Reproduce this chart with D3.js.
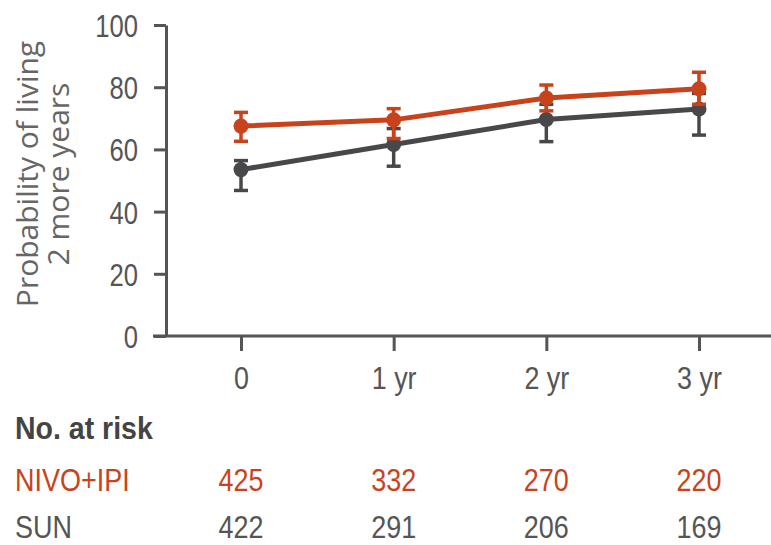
<!DOCTYPE html>
<html>
<head>
<meta charset="utf-8">
<script src="https://cdn.jsdelivr.net/npm/d3@7"></script>
<style>
  html, body { margin: 0; padding: 0; background: #fff; }
  svg { display: block; }
</style>
</head>
<body>
<svg id="chart" width="771" height="545"></svg>
<script>
// ---- data ----
const timepoints = ["0", "1 yr", "2 yr", "3 yr"];
const yTicks = [0, 20, 40, 60, 80, 100];
const seriesNames = ["NIVO+IPI", "SUN"];
const nivoValues = [67.5, 69.5, 76.5, 79.5];
const nivoLower  = [62.6, 63.5, 72.4, 74.5];
const nivoUpper  = [71.9, 73.1, 80.7, 84.8];
const sunValues  = [53.5, 61.6, 69.6, 73.0];
const sunLower   = [46.8, 54.6, 62.5, 64.6];
const sunUpper   = [56.4, 66.7, 74.5, 78.0];
const nivoAtRisk = [425, 332, 270, 220];
const sunAtRisk  = [422, 291, 206, 169];
const yTitleLines = ["Probability of living", "2 more years"];
const tableTitle = "No. at risk";

const colors = { "NIVO+IPI": "#c8431c", "SUN": "#48484a" };
const axisColor = "#555555";
const textColor = "#555555";
const narrowFont = "'Liberation Sans', Arial, sans-serif";

const series = [
  { name: seriesNames[0], values: nivoValues, lower: nivoLower, upper: nivoUpper, atRisk: nivoAtRisk },
  { name: seriesNames[1], values: sunValues, lower: sunLower, upper: sunUpper, atRisk: sunAtRisk }
];

// horizontally condense text about its anchor point
function squeeze(sel, sx) {
  sel.each(function () {
    const t = d3.select(this);
    const x = +t.attr("x") || 0;
    const y = +t.attr("y") || 0;
    t.attr("x", 0).attr("y", 0).attr("transform", `translate(${x},${y}) scale(${sx},1)`);
  });
}

const svg = d3.select("#chart");

const x = d3.scalePoint().domain(timepoints).range([241, 699]);
const y = d3.scaleLinear().domain([0, 100]).range([336, 25]);

const axisX0 = 166;

// y axis
const yAxis = svg.append("g")
  .attr("transform", `translate(${axisX0},0)`)
  .call(d3.axisLeft(y).tickValues(yTicks).tickSize(12).tickPadding(16).tickSizeOuter(0));
yAxis.select(".domain").attr("stroke", axisColor).attr("stroke-width", 3);
yAxis.selectAll(".tick line").attr("stroke", axisColor).attr("stroke-width", 3);
yAxis.selectAll(".tick text")
  .attr("fill", textColor)
  .style("font-family", narrowFont)
  .style("font-size", "32px")
  .attr("dy", "0.36em");
squeeze(yAxis.selectAll(".tick text"), 0.8);

// x axis
const xAxis = svg.append("g")
  .attr("transform", `translate(0,${y(0)})`)
  .call(d3.axisBottom(x).tickSize(15).tickPadding(15).tickSizeOuter(0));
xAxis.select(".domain").remove();
xAxis.append("line")
  .attr("x1", axisX0 - 13).attr("x2", 771)
  .attr("stroke", axisColor).attr("stroke-width", 3);
xAxis.selectAll(".tick line").attr("stroke", axisColor).attr("stroke-width", 3);
xAxis.selectAll(".tick text")
  .attr("fill", textColor)
  .style("font-family", narrowFont)
  .style("font-size", "32px")
  .attr("dy", "0.71em");
squeeze(xAxis.selectAll(".tick text"), 0.84);

// y title
const yTitle = svg.append("text")
  .attr("transform", `translate(0,174) rotate(-90)`)
  .attr("text-anchor", "middle")
  .attr("fill", "#666666")
  .style("font-family", "'Open Sans', 'DejaVu Sans', sans-serif")
  .style("font-size", "30px");
yTitle.append("tspan").attr("x", 0).attr("y", 38).text(yTitleLines[0]);
yTitle.append("tspan").attr("x", 0).attr("y", 69).text(yTitleLines[1]);

// series
const line = d3.line().x((d, i) => x(timepoints[i])).y(d => y(d));
const capHalf = 7;

// draw SUN first, then NIVO on top
[series[1], series[0]].forEach(s => {
  const c = colors[s.name];
  const g = svg.append("g");
  g.append("path")
    .datum(s.values)
    .attr("fill", "none")
    .attr("stroke", c)
    .attr("stroke-width", 5)
    .attr("d", line);
  const eb = g.selectAll(".eb").data(s.values.map((v, i) => i)).enter().append("g");
  eb.append("line")
    .attr("x1", i => x(timepoints[i])).attr("x2", i => x(timepoints[i]))
    .attr("y1", i => y(s.lower[i])).attr("y2", i => y(s.upper[i]))
    .attr("stroke", c).attr("stroke-width", 3.5);
  eb.append("line")
    .attr("x1", i => x(timepoints[i]) - capHalf).attr("x2", i => x(timepoints[i]) + capHalf)
    .attr("y1", i => y(s.lower[i])).attr("y2", i => y(s.lower[i]))
    .attr("stroke", c).attr("stroke-width", 3.5);
  eb.append("line")
    .attr("x1", i => x(timepoints[i]) - capHalf).attr("x2", i => x(timepoints[i]) + capHalf)
    .attr("y1", i => y(s.upper[i])).attr("y2", i => y(s.upper[i]))
    .attr("stroke", c).attr("stroke-width", 3.5);
  eb.append("circle")
    .attr("cx", i => x(timepoints[i]))
    .attr("cy", i => y(s.values[i]))
    .attr("r", 7.5)
    .attr("fill", c);
});

// number at risk table
const title = svg.append("text")
  .attr("x", 15).attr("y", 439)
  .attr("fill", "#444444")
  .style("font-family", narrowFont)
  .style("font-size", "31px")
  .style("font-weight", "bold")
  .text(tableTitle);
squeeze(title, 0.92);

const rowY = [491, 538];
series.forEach((s, r) => {
  const c = r === 0 ? colors[s.name] : textColor;
  const lbl = svg.append("text")
    .attr("x", 15).attr("y", rowY[r])
    .attr("fill", c)
    .style("font-family", narrowFont)
    .style("font-size", "31px")
    .text(s.name);
  squeeze(lbl, 0.87);
  const nums = svg.append("g").selectAll("text").data(s.atRisk).enter().append("text")
    .attr("x", (d, i) => x(timepoints[i]))
    .attr("y", rowY[r])
    .attr("text-anchor", "middle")
    .attr("fill", c)
    .style("font-family", narrowFont)
    .style("font-size", "31px")
    .text(d => d);
  squeeze(nums, 0.87);
});
</script>
</body>
</html>
